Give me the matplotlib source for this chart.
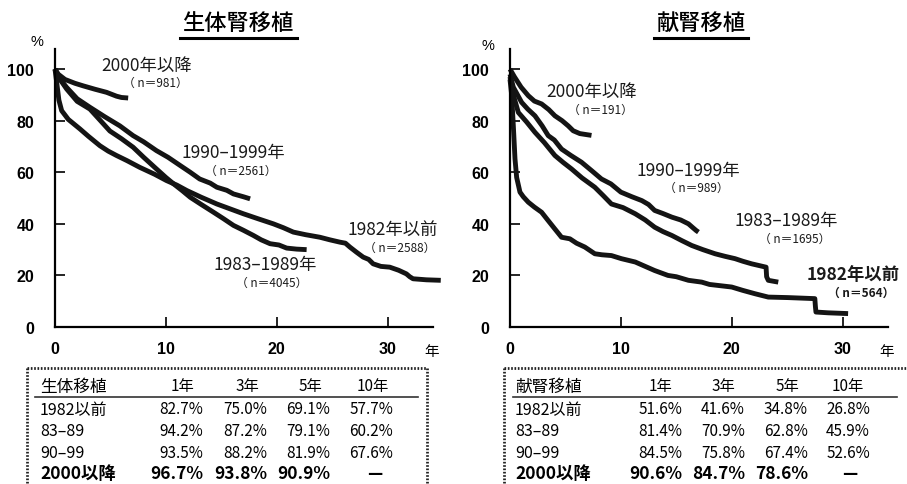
import matplotlib
matplotlib.use("Agg")
import matplotlib.pyplot as plt
from matplotlib.lines import Line2D

plt.rcParams['font.family'] = ['Noto Sans CJK JP', 'DejaVu Sans']

W, H = 907, 485

# ---------------- data ----------------
titles = ["生体腎移植", "献腎移植"]
x_ticks = [0, 10, 20, 30]
y_ticks = [0, 20, 40, 60, 80, 100]

# living donor (left)
ld_2000_t = [0, 0.3, 0.9, 1.8, 2.55, 3.6, 4.65, 5.55, 6.0, 6.6]
ld_2000_s = [100, 98, 96, 94.5, 93.5, 92.2, 91, 89.5, 89, 88.8]
ld_1990_t = [0, 0.3, 1.05, 2.0, 3.15, 4.5, 5.85, 7.05, 8.0, 9.15, 10.2, 11.3, 12.2, 13.05,
             14.0, 14.6, 15.5, 16.1, 17.0, 17.6]
ld_1990_s = [100, 97, 92.9, 88.5, 85.2, 81.5, 78, 74.2, 71.8, 68.4, 65.8, 62.6, 60, 57.4,
             55.8, 54.2, 53, 51.6, 50.5, 49.7]
ld_1983_t = [0, 0.3, 1.05, 2.0, 3.15, 4.0, 4.95, 6.0, 7.05, 8.0, 9.15, 10.0, 10.7, 11.5, 12.2,
             13.2, 14.3, 15.2, 16.1, 17.0, 17.9, 18.6, 19.4, 20.2, 20.9, 21.8, 22.7]
ld_1983_s = [100, 97, 92.3, 87.5, 84.5, 80.5, 76, 73, 69.7, 65.8, 61.3, 58, 55.5, 52.8, 50.3,
             47.5, 44.5, 42, 39.4, 37.5, 35.5, 33.8, 32.3, 31.8, 30.6, 30.2, 30]
ld_1982_t = [0, 0.15, 0.35, 0.6, 1.2, 2.25, 3.0, 4.05, 4.8, 5.55, 6.5, 7.65, 9.0, 10.05, 11.0,
             11.9, 13.2, 14.6, 15.8, 17.0, 18.3, 19.7, 20.6, 21.5, 22.6, 23.9, 24.8, 25.7, 26.2,
             26.6, 27.2, 27.8, 28.3, 28.7, 29.4, 30.2, 31.0, 31.7, 32.0, 32.3, 33.5, 34.8]
ld_1982_s = [100, 95, 88, 83.9, 80.5, 76.8, 74, 70.3, 68.2, 66.5, 64.5, 61.9, 59.2, 56.8, 55,
             52.9, 50.3, 47.7, 45.8, 43.9, 42, 40, 38.5, 36.8, 35.8, 34.8, 33.8, 32.9, 32.5,
             31, 29, 27.1, 26.2, 24.5, 23.5, 23.2, 22.0, 20.6, 19.5, 18.7, 18.3, 18.1]

# deceased donor (right)
dd_2000_t = [0, 0.4, 1.0, 1.65, 2.2, 2.85, 3.5, 4.05, 4.7, 5.25, 5.7, 6.3, 7.35]
dd_2000_s = [100, 97, 93, 89.7, 87.6, 86.5, 84.3, 81.9, 80, 78, 76.1, 75, 74.3]
dd_1990_t = [0, 0.3, 1.05, 1.6, 2.25, 2.9, 3.45, 4.0, 4.65, 5.5, 6.45, 7.4, 8.25, 9.1, 10.0,
             11.0, 11.9, 12.5, 13.05, 13.8, 14.6, 15.4, 16.1, 16.5, 16.8, 17.0]
dd_1990_s = [98, 93, 87.1, 84.5, 81.9, 78, 74.2, 72.5, 69, 66.5, 63.9, 60.5, 57.4, 55.5, 52.3,
             50.5, 49, 47.5, 45.2, 44, 42.6, 41.5, 40, 38.5, 37.4, 36.8]
dd_1983_t = [0, 0.3, 0.75, 1.5, 2.25, 3.1, 4.05, 4.8, 5.55, 6.5, 7.65, 8.4, 9.15, 10.2, 11.3,
             12.2, 13.05, 13.8, 14.6, 15.5, 16.4, 17.4, 18.5, 19.4, 20.3, 21.0, 21.8, 22.5,
             23.1, 23.15, 23.3, 24.2]
dd_1983_s = [97, 90, 83.2, 79.5, 75.5, 71.5, 66.5, 63.8, 61.3, 57.8, 54.2, 51, 47.7, 46.3, 43.9,
             41.5, 38.7, 37, 35.5, 33.5, 31.6, 30, 28.4, 27.4, 26.5, 25.5, 24.5, 23.8,
             23.2, 19.5, 18.1, 17.4]
dd_1982_t = [0, 0.15, 0.3, 0.45, 0.6, 0.9, 1.2, 1.65, 2.2, 2.85, 3.4, 4.05, 4.65, 5.4, 6.0,
             6.75, 7.65, 8.3, 9.15, 10.05, 11.3, 12.2, 13.05, 14.25, 15.0, 16.1, 17.3, 18.0,
             18.8, 20.0, 21.0, 22.1, 23.3, 25.1, 27.5, 27.55, 27.6, 28.7, 30.5]
dd_1982_s = [96, 90, 78, 65.2, 58, 52.3, 50.5, 48.4, 46.5, 44.5, 41.5, 38, 34.8, 34.2, 32.5,
             31, 28.4, 28, 27.7, 26.5, 25.2, 23.5, 21.9, 20, 19.5, 18.1, 17.4, 16.5,
             16.1, 15.5, 14.2, 12.9, 11.6, 11.4, 11, 8, 5.8, 5.5, 5.2]

left_series = [(ld_2000_t, ld_2000_s), (ld_1990_t, ld_1990_s),
               (ld_1983_t, ld_1983_s), (ld_1982_t, ld_1982_s)]
right_series = [(dd_2000_t, dd_2000_s), (dd_1990_t, dd_1990_s),
                (dd_1983_t, dd_1983_s), (dd_1982_t, dd_1982_s)]

period_labels = ["2000年以降", "1990–1999年", "1983–1989年", "1982年以前"]
left_n = ["（ n＝981）", "（ n＝2561）", "（ n＝4045）", "（ n＝2588）"]
right_n = ["（ n＝191）", "（ n＝989）", "（ n＝1695）", "（ n＝564）"]

table_cols = ["1年", "3年", "5年", "10年"]
table_rows = ["1982以前", "83–89", "90–99", "2000以降"]
left_table_title = "生体移植"
right_table_title = "献腎移植"
left_table = [["82.7%", "75.0%", "69.1%", "57.7%"],
              ["94.2%", "87.2%", "79.1%", "60.2%"],
              ["93.5%", "88.2%", "81.9%", "67.6%"],
              ["96.7%", "93.8%", "90.9%", "—"]]
right_table = [["51.6%", "41.6%", "34.8%", "26.8%"],
               ["81.4%", "70.9%", "62.8%", "45.9%"],
               ["84.5%", "75.8%", "67.4%", "52.6%"],
               ["90.6%", "84.7%", "78.6%", "—"]]

# ---------------- layout helpers ----------------
fig = plt.figure(figsize=(W / 100, H / 100), dpi=100)


def fx(x):
    return x / W


def fy(y):
    return 1 - y / H


def ftext(x, y, s, **kw):
    fig.text(fx(x), fy(y), s, **kw)


def fline(xs, ys, **kw):
    fig.add_artist(Line2D([fx(v) for v in xs], [fy(v) for v in ys],
                          transform=fig.transFigure, **kw))


def make_axes(x0, series, labels, nlabels, lab_pos, n_pos, bold_last=False):
    ax = fig.add_axes([fx(x0), fy(328), (433 - 55) / W, (328 - 50) / H])
    ax.set_xlim(0, 34.1)
    ax.set_ylim(0, 107.8)
    for sp in ['top', 'right']:
        ax.spines[sp].set_visible(False)
    for sp in ['left', 'bottom']:
        ax.spines[sp].set_linewidth(1.6)
    ax.set_xticks(x_ticks)
    ax.set_yticks(y_ticks)
    ax.tick_params(axis='both', direction='in', length=7, width=1.2)
    ax.tick_params(axis='y', pad=15)
    ax.tick_params(axis='x', pad=10)
    for lab in ax.get_xticklabels() + ax.get_yticklabels():
        lab.set_fontfamily('Liberation Sans')
        lab.set_fontweight('bold')
        lab.set_fontsize(11.5)
    for t, s in series:
        ax.plot(t, s, color='#141414', lw=3.5, solid_joinstyle='round',
                solid_capstyle='butt', clip_on=False)
    for i, (lab, nl) in enumerate(zip(labels, nlabels)):
        w = 'bold' if (bold_last and i == 3) else 'normal'
        ftext(lab_pos[i][0], lab_pos[i][1], lab, ha='center', va='center',
              fontsize=12.5, fontweight=w, color='#1a1a1a')
        ftext(n_pos[i][0], n_pos[i][1], nl, ha='center', va='center',
              fontsize=8.5, fontweight=w, color='#1a1a1a')
    return ax


make_axes(55, left_series, period_labels, left_n,
          [(147, 66), (233, 153), (265, 265), (393, 230)],
          [(155, 83), (241, 171), (272, 283), (400, 248)])
make_axes(510, right_series, period_labels, right_n,
          [(592, 92), (688, 171), (786, 221), (853, 275)],
          [(600, 110), (696, 188), (795, 239), (861, 293)], bold_last=True)

# titles
for title, cx, ul in [(titles[0], 238, (180, 297)), (titles[1], 701, (654, 748))]:
    ftext(cx, 23, title, ha='center', va='center', fontsize=16, fontweight='medium')
    fline(ul, [39, 39], color='black', lw=2.2)

# % and 年
ftext(37, 42, "%", ha='center', va='center', fontsize=10.5, family='Liberation Sans')
ftext(488, 46, "%", ha='center', va='center', fontsize=10.5, family='Liberation Sans')
ftext(432, 352, "年", ha='center', va='center', fontsize=10.5)
ftext(887, 352, "年", ha='center', va='center', fontsize=10.5)

# ---------------- tables ----------------
row_y = [410, 432, 454, 474]
head_y = 387


def draw_table(box, line, title, label_x, head_cx, val_rx, data):
    bx0, bx1 = box
    dotted = dict(color='#222222', lw=2.0, linestyle=(0, (0.6, 0.6)))
    fline([bx0, bx1], [369, 369], **dotted)
    fline([bx0, bx0], [369, 490], **dotted)
    if bx1 < W:
        fline([bx1, bx1], [369, 490], **dotted)
    fline(line, [398, 398], color='#333333', lw=1.2)
    ftext(label_x, head_y, title, ha='left', va='center', fontsize=12)
    for cx, c in zip(head_cx, table_cols):
        ftext(cx, head_y, c, ha='center', va='center', fontsize=11)
    for r, (ry, rl) in enumerate(zip(row_y, table_rows)):
        last = r == 3
        ftext(label_x, ry, rl, ha='left', va='center',
              fontsize=12.5 if last else 11.5, fontweight='semibold' if last else 'normal')
        for j, v in enumerate(data[r]):
            if v == "—":
                ftext(head_cx[j] + 2, ry, v, ha='center', va='center', fontsize=12,
                      fontweight='bold')
            else:
                ftext(val_rx[j], ry, v, ha='right', va='center',
                      fontsize=12.5 if last else 11,
                      fontweight='semibold' if last else 'normal')


draw_table((27, 427), (35, 418), left_table_title, 40,
           [182, 247, 310, 373], [203, 267, 330, 393], left_table)
draw_table((504, 912), (513, 897), right_table_title, 515,
           [660, 723, 787, 848], [682, 745, 808, 870], right_table)

fig.savefig("out.png", dpi=100)
